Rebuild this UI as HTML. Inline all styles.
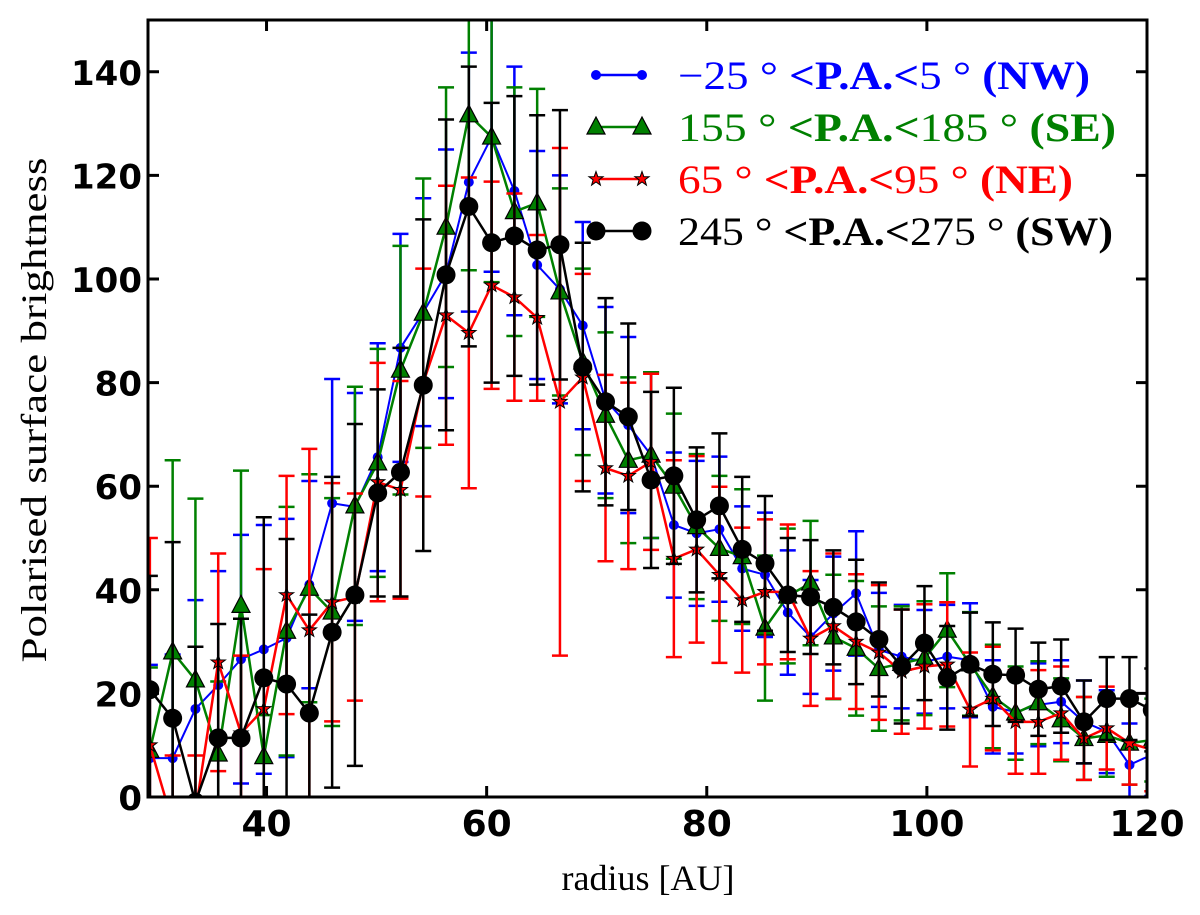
<!DOCTYPE html>
<html><head><meta charset="utf-8"><style>
html,body{margin:0;padding:0;background:#fff;}
svg{display:block;}
</style></head><body>
<svg id="chart" width="1200" height="915" viewBox="0 0 1200 915" xmlns="http://www.w3.org/2000/svg">
<defs><clipPath id="clip"><rect x="148" y="20" width="999" height="777"/></clipPath></defs>
<rect x="0" y="0" width="1200" height="915" fill="#fff"/>
<g id="plot" clip-path="url(#clip)"></g>
<g id="axes"></g>
<g id="legend"></g>
</svg>
<script>
const radii0 = 29.4, radiusStep = 2.07;
const xTicks = [40, 60, 80, 100, 120];
const yTicks = [0, 20, 40, 60, 80, 100, 120, 140];
const blueVals  = [7.5,7.5,17,21.6,26.6,28.5,30.7,41,56.7,56,65.6,86.7,93.6,101,118.7,127.4,117,102.7,98,91,76.6,71.8,66,52.5,50.9,51.7,44.1,42.9,35.6,30.9,35.4,39.3,28.4,27.1,26.1,27.1,26.4,17.4,16.4,17.8,18.4,14.5,12.6,6.2,8.2];
const greenVals = [9,28,22.6,8.3,37,7.8,32,40.3,35.7,56.2,64.5,82.4,93.4,110,131.7,127.4,113,114.7,97.5,84,73.7,65,66,60,52.2,48,46.4,32.6,38.8,41.3,30.9,28.7,24.8,25.8,26.8,32.2,25.7,19.4,16.2,18.2,14.9,11.3,11.9,10.4,11];
const redVals   = [10,-5,-3,26,12.3,17,39,32.2,37.6,38.6,60.8,59.3,80,93,89.6,98.8,96.5,92.5,76.3,81,63.5,62,64.7,46,47.8,42.9,38,39.6,39.6,30.6,33,30,27.9,24.2,25.2,25.6,16.9,19,14.5,14.5,16.2,11.3,13.3,10.4,9.1];
const blackVals = [20.7,15.2,-1,11.4,11.4,23,21.8,16.2,31.8,39,58.7,62.7,79.5,100.8,114,107,108.3,105.6,106.6,83,76.3,73.4,61.2,62,53.5,56.2,47.8,45.1,39,38.6,36.6,33.8,30.4,25.2,29.7,23,25.6,23.7,23.5,20.8,21.4,14.5,19,19,16.8];
const blueErr  = [18,20,21,22,24,24,23,20,24,22,22,22,22,24,25,26,24,22,22,20,18,17,16,14,14,14,12,12,12,11,11,12,11,10,10,10,11,9,8,8,8,8,8,8,8];
const greenErr = [16,37,35,14,26,8,24,22,22,23,22,24,26,27,30,28,24,22,20,18,16,16,16,14,14,14,13,14,13,12,12,13,12,11,11,11,10,10,9,8,8,8,8,8,8];
const redErr   = [40,13,11,21,15,27,23,35,23,20,23,21,22,25,30,20,20,16,49,20,18,18,17,19,18,17,14,14,13,13,14,13,13,12,12,12,11,10,10,10,9,8,8,8,8];
const blackErr = [22,34,30,22,23,31,28,19,30,33,20,24,32,30,27,27,27,26,26,24,20,18,17,17,14,14,14,13,11,11,11,12,11,11,11,10,10,10,9,9,9,8,8,8,8];

const X0 = 148, X1 = 1147, XMIN = 29.23, XMAX = 120;
const Y0 = 797, Y1 = 20, YMIN = 0, YMAX = 150;
function sx(v){ return X0 + (v - XMIN) / (XMAX - XMIN) * (X1 - X0); }
function sy(v){ return Y0 - (v - YMIN) / (YMAX - YMIN) * (Y0 - Y1); }
const NS = 'http://www.w3.org/2000/svg';
function mk(tag, attrs, parent){ const e = document.createElementNS(NS, tag); for (const k in attrs) e.setAttribute(k, attrs[k]); parent.appendChild(e); return e; }
const plot = document.getElementById('plot');
const axes = document.getElementById('axes');
const legend = document.getElementById('legend');

function marker(kind, x, y, color, parent){
  let m;
  if (kind === 'dot') { m = mk('circle', {cx:x, cy:y, r:4.5, fill:color, stroke:color, 'stroke-width':1}, parent); }
  else if (kind === 'tri') { m = mk('polygon', {points:`${x},${y-10} ${x-9},${y+7} ${x+9},${y+7}`, fill:'#008000', stroke:'#000', 'stroke-width':1.2}, parent); }
  else if (kind === 'star') {
    let p = []; for (let k=0;k<10;k++){ const a = -Math.PI/2 + k*Math.PI/5; const r = k%2?3:7.5; p.push((x+r*Math.cos(a)).toFixed(1)+','+(y+r*Math.sin(a)).toFixed(1)); }
    m = mk('polygon', {points:p.join(' '), fill:'#ff0000', stroke:'#000', 'stroke-width':1}, parent);
  } else { m = mk('circle', {cx:x, cy:y, r:9.5, fill:'#000'}, parent); }
  return m;
}

const series = [
  {name:'nw', vals:blueVals, err:blueErr, color:'#0000ff', kind:'dot', lw:2},
  {name:'se', vals:greenVals, err:greenErr, color:'#008000', kind:'tri', lw:2.5},
  {name:'ne', vals:redVals, err:redErr, color:'#ff0000', kind:'star', lw:2.5},
  {name:'sw', vals:blackVals, err:blackErr, color:'#000000', kind:'circ', lw:2.5}
];
series.forEach(s => {
  const g = mk('g', {}, plot);
  
  
  s.vals.forEach((v, i) => {
    const x = sx(radii0 + radiusStep * i);
    const lo = sy(v - s.err[i]), hi = sy(v + s.err[i]);
    const eb = mk('path', {d:`M${x},${lo}V${hi}M${x-8},${lo}H${x+8}M${x-8},${hi}H${x+8}`, stroke:s.color, 'stroke-width':2.5, fill:'none'}, g);
    
    
  });
  const pts = s.vals.map((v, i) => sx(radii0 + radiusStep * i).toFixed(1) + ',' + sy(v).toFixed(1)).join(' ');
  const line = mk('polyline', {points:pts, fill:'none', stroke:s.color, 'stroke-width':s.lw}, g);
  
  
  s.vals.forEach((v, i) => {
    const m = marker(s.kind, sx(radii0 + radiusStep * i), sy(v), s.color, g);
    
    
  });
});

const frame = mk('rect', {x:X0, y:Y1, width:X1-X0, height:Y0-Y1, fill:'none', stroke:'#000', 'stroke-width':3}, axes);


xTicks.forEach(t => {
  const x = sx(t);
  mk('path', {d:`M${x},${Y0}V${Y0-11}M${x},${Y1}V${Y1+11}`, stroke:'#000', 'stroke-width':3}, axes);
  const lab = mk('text', {x:x, y:836, 'text-anchor':'middle', 'font-family':'DejaVu Sans, sans-serif', 'font-size':36, 'font-weight':'bold', 'fill':'#000'}, axes);
  lab.textContent = t;
  
  
});
yTicks.forEach(t => {
  const y = sy(t);
  mk('path', {d:`M${X0},${y}H${X0+11}M${X1},${y}H${X1-11}`, stroke:'#000', 'stroke-width':3}, axes);
  const lab = mk('text', {x:142, y:y+13, 'text-anchor':'end', 'font-family':'DejaVu Sans, sans-serif', 'font-size':34, 'font-weight':'bold', 'fill':'#000'}, axes);
  lab.textContent = t;
  
  
});
const xt = mk('text', {x:648, y:890, 'text-anchor':'middle', 'font-family':'Liberation Serif, serif', 'font-size':36, fill:'#000'}, axes);
xt.textContent = 'radius [AU]';


const yt = mk('text', {x:0, y:0, 'text-anchor':'middle', 'font-family':'Liberation Serif, serif', 'font-size':36, fill:'#000', transform:'translate(46,410) rotate(-90)', textLength:505, lengthAdjust:'spacingAndGlyphs'}, axes);
yt.textContent = 'Polarised surface brightness';



const legendRows = [
  {a:'\u221225 \u00b0 ', b:'<P.A.<', c:'5 \u00b0 ', d:' (NW)', color:'#0000ff', kind:'dot', y:75, w:412},
  {a:'155 \u00b0 ', b:'<P.A.<', c:'185 \u00b0 ', d:' (SE)', color:'#008000', kind:'tri', y:127, w:438},
  {a:'65 \u00b0 ', b:'<P.A.<', c:'95 \u00b0 ', d:' (NE)', color:'#ff0000', kind:'star', y:179, w:395},
  {a:'245 \u00b0 ', b:'<P.A.<', c:'275 \u00b0 ', d:' (SW)', color:'#000000', kind:'circ', y:231, w:435}
];
legendRows.forEach(r => {
  const g = mk('g', {}, legend);
  
  
  mk('line', {x1:596, y1:r.y, x2:642, y2:r.y, stroke:r.color, 'stroke-width':2.5}, g);
  marker(r.kind, 596, r.y, r.color, g);
  marker(r.kind, 642, r.y, r.color, g);
  const t = mk('text', {x:678, y:r.y+14, 'font-family':'Liberation Serif, serif', 'font-size':40, fill:r.color, textLength:r.w, lengthAdjust:'spacingAndGlyphs'}, g);
  const s1 = mk('tspan', {}, t); s1.textContent = r.a;
  const s2 = mk('tspan', {'font-weight':'bold'}, t); s2.textContent = r.b;
  const s3 = mk('tspan', {}, t); s3.textContent = r.c;
  const s4 = mk('tspan', {'font-weight':'bold'}, t); s4.textContent = r.d;
});
</script>
</body></html>
